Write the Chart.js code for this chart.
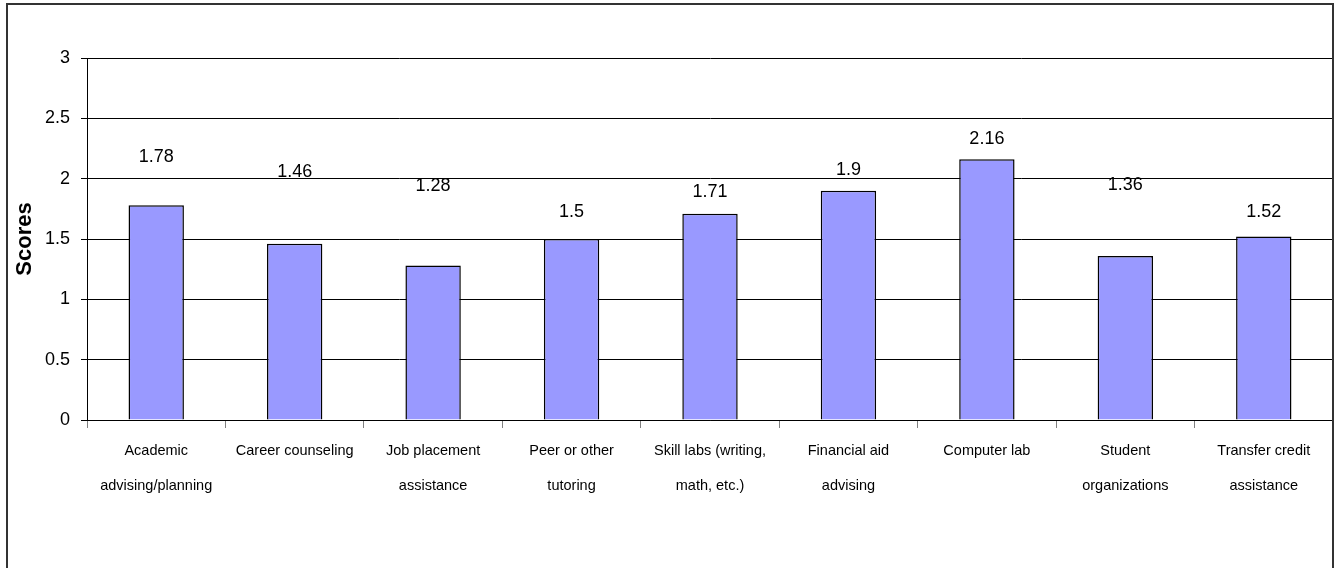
<!DOCTYPE html>
<html>
<head>
<meta charset="utf-8">
<title>Scores</title>
<script src="https://cdn.jsdelivr.net/npm/chart.js@4/dist/chart.umd.min.js"></script>
<style>
    html, body { margin: 0; padding: 0; background: #fff; }
    #wrap { width: 1340px; height: 568px; position: relative; }
</style>
</head>
<body>
<div id="wrap"><canvas id="scoreChart"></canvas></div>
<script>
// Dịch vụ hỗ trợ sinh viên (nhãn hai dòng)
const services = [
    ['Academic', 'advising/planning'],
    ['Career counseling'],
    ['Job placement', 'assistance'],
    ['Peer or other', 'tutoring'],
    ['Skill labs (writing,', 'math, etc.)'],
    ['Financial aid', 'advising'],
    ['Computer lab'],
    ['Student', 'organizations'],
    ['Transfer credit', 'assistance']
];

// Điểm trung bình
const scores = [1.78, 1.46, 1.28, 1.5, 1.71, 1.9, 2.16, 1.36, 1.52];

// Nhãn trục y
const yTicks = [0, 0.5, 1, 1.5, 2, 2.5, 3];

// Khoảng cách nhãn giá trị so với đỉnh cột (px)
const labelLift = [48, 72, 80, 27, 22, 21, 20, 71, 25];

const FONT = "'Liberation Sans', Arial, sans-serif";

// Nền trắng + khung viền ngoài
const framePlugin = {
    id: 'frame',
    beforeDraw(chart) {
        const ctx = chart.ctx;
        ctx.save();
        ctx.fillStyle = '#ffffff';
        ctx.fillRect(0, 0, chart.width, chart.height);
        ctx.restore();
    },
    afterDraw(chart) {
        const ctx = chart.ctx;
        ctx.save();
        ctx.strokeStyle = '#333333';
        ctx.lineWidth = 2;
        ctx.strokeRect(7, 4, 1326, 700);
        ctx.restore();
    }
};

// Vẽ giá trị phía trên mỗi cột
const valueLabels = {
    id: 'valueLabels',
    afterDatasetsDraw(chart) {
        const ctx = chart.ctx;
        const meta = chart.getDatasetMeta(0);
        ctx.save();
        ctx.font = '18px ' + FONT;
        ctx.fillStyle = '#000';
        ctx.textAlign = 'center';
        ctx.textBaseline = 'middle';
        meta.data.forEach((bar, i) => {
            ctx.fillText(String(scores[i]), bar.x, bar.y - labelLift[i]);
        });
        ctx.restore();
    }
};

new Chart(document.getElementById('scoreChart'), {
    type: 'bar',
    data: {
        labels: services,
        datasets: [{
            data: scores,
            backgroundColor: '#9999FF',
            borderColor: '#000000',
            borderWidth: 1.5,
            categoryPercentage: 1,
            barPercentage: 0.4
        }]
    },
    options: {
        responsive: true,
        maintainAspectRatio: false,
        animation: false,
        layout: { padding: { top: 58, right: 7, left: 0, bottom: 0 } },
        plugins: {
            legend: { display: false },
            tooltip: { enabled: false }
        },
        scales: {
            x: {
                grid: {
                    offset: true,
                    drawOnChartArea: false,
                    drawTicks: true,
                    tickLength: 8,
                    tickColor: '#808080'
                },
                border: { color: '#000', width: 1 },
                ticks: {
                    color: '#000',
                    padding: 5,
                    maxRotation: 0,
                    autoSkip: false,
                    font: { family: FONT, size: 14.5, lineHeight: '35px' }
                },
                afterFit(scale) { scale.height = 148; }
            },
            y: {
                min: 0,
                max: 3,
                afterBuildTicks(scale) {
                    scale.ticks = yTicks.map(v => ({ value: v }));
                },
                grid: {
                    color: '#000',
                    tickColor: '#000',
                    tickLength: 6,
                    drawTicks: true
                },
                border: { color: '#000', width: 1 },
                ticks: {
                    color: '#000',
                    padding: 11,
                    font: { family: FONT, size: 18 },
                    callback: v => String(v)
                },
                title: {
                    display: true,
                    text: 'Scores',
                    color: '#000',
                    padding: { top: 12, bottom: 0 },
                    font: { family: FONT, size: 22, weight: 'bold', lineHeight: 1.2 }
                },
                afterFit(scale) { scale.width = 87; }
            }
        }
    },
    plugins: [framePlugin, valueLabels]
});
</script>
</body>
</html>
